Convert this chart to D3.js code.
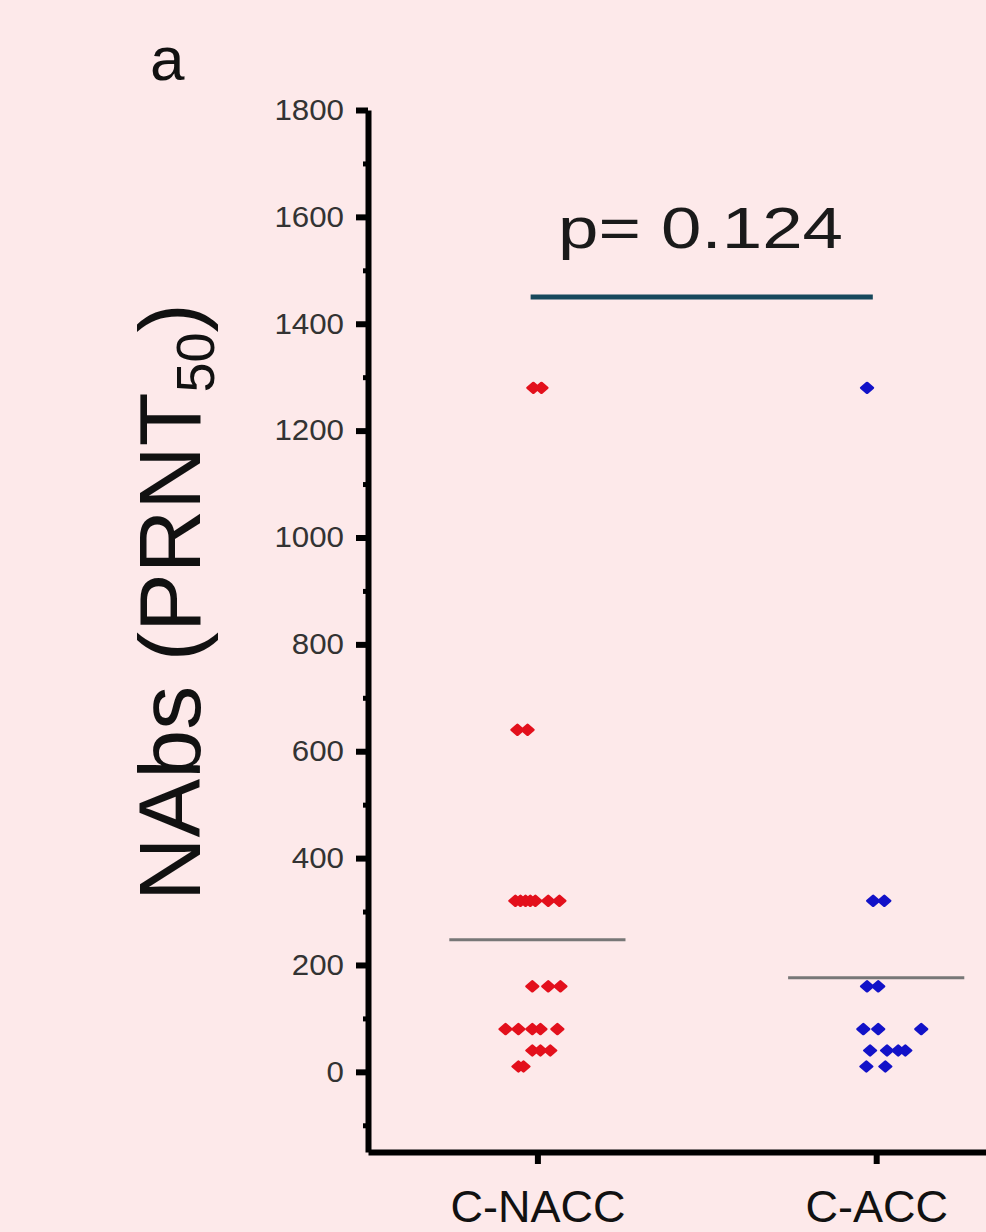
<!DOCTYPE html>
<html>
<head>
<meta charset="utf-8">
<script src="https://cdn.jsdelivr.net/npm/d3@7"></script>
<style>
  html, body { margin: 0; padding: 0; background: #fde9ea; }
  svg { display: block; font-family: "Liberation Sans", Arial, sans-serif; }
</style>
</head>
<body>
<div id="chart"></div>
<script>
/* groups on the x axis (positioned at 1 and 2) */
let groups = ['C-NACC', 'C-ACC'];

/* NAbs titres per subject, with horizontal offset (x units) */
let nacc_values  = [1280, 1280, 640, 640,
                    320, 320, 320, 320, 320, 320, 320,
                    160, 160, 160,
                    80, 80, 80, 80, 80,
                    40, 40, 40,
                    10, 10];
let nacc_offsets = [-0.012, 0.012, -0.059, -0.029,
                    -0.065, -0.050, -0.035, -0.021, -0.006, 0.032, 0.065,
                    -0.015, 0.032, 0.068,
                    -0.094, -0.056, -0.015, 0.009, 0.059,
                    -0.015, 0.009, 0.038,
                    -0.056, -0.041];

let acc_values  = [1280, 320, 320, 160, 160, 80, 80, 80, 40, 40, 40, 40, 10, 10];
let acc_offsets = [-0.027, -0.009, 0.024, -0.027, 0.006,
                   -0.038, 0.006, 0.133,
                   -0.018, 0.032, 0.065, 0.086,
                   -0.029, 0.027];

/* horizontal mean lines */
let means = [247, 176];

let y_ticks = [0, 200, 400, 600, 800, 1000, 1200, 1400, 1600, 1800];
let y_minor = [-100, 100, 300, 500, 700, 900, 1100, 1300, 1500, 1700];

let p_label = 'p= 0.124';
let p_bar = {from: 0.98, to: 1.99, value: 1450};

const width = 986;
const height = 1232;

let svg = d3.select('#chart').append('svg')
  .attr('width', width).attr('height', height);

svg.append('rect').attr('width', width).attr('height', height).attr('fill', '#fde9ea');

let x = d3.scaleLinear().domain([0.5, 2.33]).range([368, 988]);
let y = d3.scaleLinear().domain([-150, 1800]).range([1152, 110]);

// y axis, minor ticks first
svg.append('g')
  .attr('transform', 'translate(' + x(0.5) + ',0)')
  .call(d3.axisLeft(y).tickValues(y_minor).tickSize(5).tickFormat(''))
  .call(g => g.select('.domain').remove())
  .call(g => g.selectAll('line').attr('stroke', '#000').attr('stroke-width', 5));

let yAxis = svg.append('g')
  .attr('transform', 'translate(' + x(0.5) + ',0)')
  .call(d3.axisLeft(y).tickValues(y_ticks).tickSize(12).tickSizeOuter(0).tickPadding(12)
    .tickFormat(d3.format('d')));
yAxis.select('.domain').attr('stroke', '#000').attr('stroke-width', 6);
yAxis.selectAll('line').attr('stroke', '#000').attr('stroke-width', 6);
// the labels in the source are a little wider than plain Arial
yAxis.selectAll('text')
  .attr('font-size', 29).attr('fill', '#333').attr('font-family', '"Liberation Sans", Arial, sans-serif')
  .attr('textLength', d => String(d).length * 17.4)
  .attr('lengthAdjust', 'spacingAndGlyphs');

// x axis
let xAxis = svg.append('g')
  .attr('transform', 'translate(0,' + y(-150) + ')')
  .call(d3.axisBottom(x).tickValues([1, 2]).tickSize(12).tickSizeOuter(0).tickPadding(26)
    .tickFormat(d => groups[d - 1]));
xAxis.select('.domain').attr('stroke', '#000').attr('stroke-width', 6);
xAxis.selectAll('line').attr('stroke', '#000').attr('stroke-width', 6);
xAxis.selectAll('text')
  .attr('font-size', 45).attr('fill', '#111').attr('font-family', '"Liberation Sans", Arial, sans-serif');

// mean lines
svg.selectAll('.mean')
  .data(means)
  .enter()
  .append('line')
  .attr('class', 'mean')
  .attr('x1', (d, i) => x(i + 1 - 0.26))
  .attr('x2', (d, i) => x(i + 1 + 0.26))
  .attr('y1', d => y(d))
  .attr('y2', d => y(d))
  .attr('stroke', '#777')
  .attr('stroke-width', 3);

// points
let points = [];
nacc_values.forEach((v, i) => points.push({group: 1, value: v, dx: nacc_offsets[i]}));
acc_values.forEach((v, i) => points.push({group: 2, value: v, dx: acc_offsets[i]}));

let color = d3.scaleOrdinal().domain([1, 2]).range(['#e3101c', '#1212c8']);
let symbol = d3.symbol().type(d3.symbolDiamond2).size(70);

svg.selectAll('.pt')
  .data(points)
  .enter()
  .append('path')
  .attr('class', 'pt')
  .attr('d', symbol)
  .attr('transform', d => 'translate(' + x(d.group + d.dx) + ',' + y(d.value) + ') scale(1.1,0.95)')
  .attr('fill', d => color(d.group))
  .attr('stroke', d => color(d.group))
  .attr('stroke-width', 2.5)
  .attr('stroke-linejoin', 'round');

// significance bar
svg.append('line')
  .attr('x1', x(p_bar.from)).attr('x2', x(p_bar.to))
  .attr('y1', y(p_bar.value)).attr('y2', y(p_bar.value))
  .attr('stroke', '#17485c').attr('stroke-width', 5);

svg.append('text')
  .attr('x', 558).attr('y', 248)
  .attr('font-size', 58)
  .attr('fill', '#1a1a1a')
  .attr('textLength', 285)
  .attr('lengthAdjust', 'spacingAndGlyphs')
  .text(p_label);

// y label
let ylab = svg.append('text')
  .attr('transform', 'translate(200,602) rotate(-90)')
  .attr('text-anchor', 'middle')
  .attr('font-size', 88)
  .attr('fill', '#111');
ylab.append('tspan').text('NAbs (PRNT');
ylab.append('tspan').attr('font-size', 54).attr('dy', 14).text('50');
ylab.append('tspan').attr('dy', -14).text(')');

// panel letter
svg.append('text')
  .attr('x', 150).attr('y', 80)
  .attr('font-size', 62)
  .attr('fill', '#111')
  .text('a');
</script>
</body>
</html>
